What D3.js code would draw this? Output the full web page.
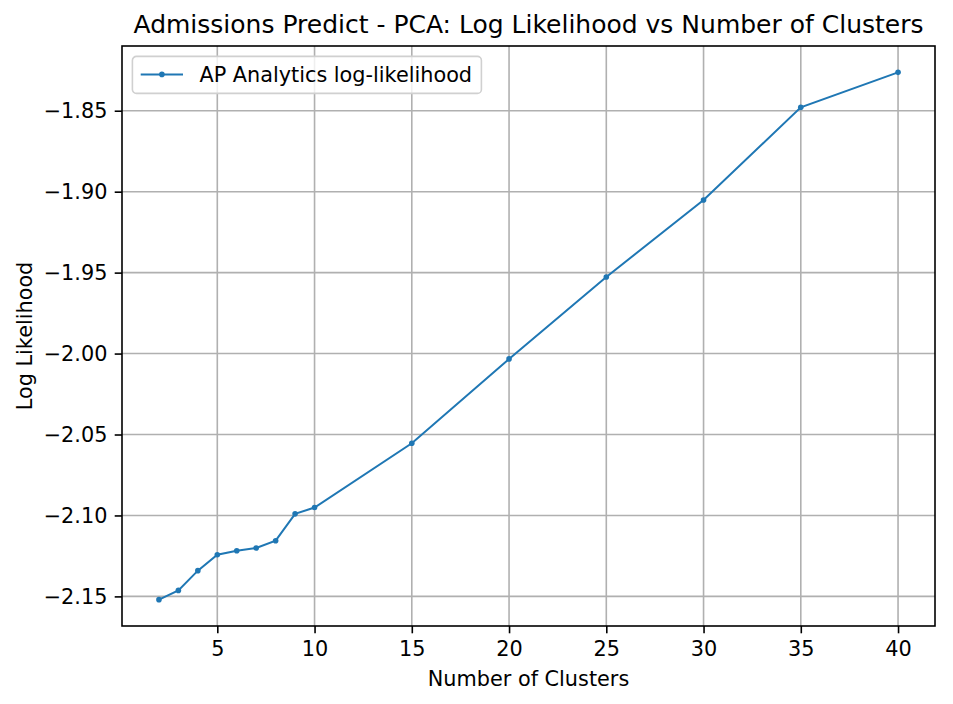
<!DOCTYPE html>
<html lang="en">
<head>
  <meta charset="UTF-8" />
  <title>Admissions Predict - PCA: Log Likelihood vs Number of Clusters</title>
  <script src="https://d3js.org/d3.v7.min.js"></script>
  <style>
    body { margin: 0; background: #fff; }
    svg { display: block; font-family: "DejaVu Sans", sans-serif; }
    .grid line { stroke: #b0b0b0; stroke-width: 1.6px; }
    .axis path, .axis line { stroke: #000; stroke-width: 1.6px; }
    .axis text { font-family: "DejaVu Sans", sans-serif; font-size: 20.8px; fill: #000; }
  </style>
</head>
<body>
  <svg id="chart" width="953" height="704"></svg>
  <script>
    const clusters = [2, 3, 4, 5, 6, 7, 8, 9, 10, 15, 20, 25, 30, 35, 40];
    const logLik = [-2.152, -2.1463, -2.1341, -2.1243, -2.1218, -2.1201, -2.1156, -2.099, -2.0951,
                    -2.0554, -2.0033, -1.9527, -1.9051, -1.8479, -1.8263];
    const xTicks = [5, 10, 15, 20, 25, 30, 35, 40];
    const yTicks = [-2.15, -2.10, -2.05, -2.00, -1.95, -1.90, -1.85];
    const seriesName = 'AP Analytics log-likelihood';

    const width = 953, height = 704;
    const margin = { top: 46, right: 18, bottom: 78, left: 122 };
    const svg = d3.select('#chart');
    const color = '#1f77b4';

    // matplotlib-style 5% padding around the data
    const xPad = (d3.max(clusters) - d3.min(clusters)) * 0.05;
    const yPad = (d3.max(logLik) - d3.min(logLik)) * 0.05;
    const x = d3.scaleLinear()
      .domain([d3.min(clusters) - xPad, d3.max(clusters) + xPad])
      .range([margin.left, width - margin.right]);
    const y = d3.scaleLinear()
      .domain([d3.min(logLik) - yPad, d3.max(logLik) + yPad])
      .range([height - margin.bottom, margin.top]);

    // grid
    const grid = svg.append('g').attr('class', 'grid');
    grid.selectAll('.gx').data(xTicks).enter().append('line')
      .attr('x1', d => x(d)).attr('x2', d => x(d))
      .attr('y1', margin.top).attr('y2', height - margin.bottom);
    grid.selectAll('.gy').data(yTicks).enter().append('line')
      .attr('x1', margin.left).attr('x2', width - margin.right)
      .attr('y1', d => y(d)).attr('y2', d => y(d));

    // line + markers
    const pts = clusters.map((c, i) => [c, logLik[i]]);
    svg.append('path')
      .datum(pts)
      .attr('fill', 'none').attr('stroke', color).attr('stroke-width', 2)
      .attr('d', d3.line().x(d => x(d[0])).y(d => y(d[1])));
    svg.selectAll('circle.pt').data(pts).enter().append('circle')
      .attr('class', 'pt')
      .attr('cx', d => x(d[0])).attr('cy', d => y(d[1])).attr('r', 2.8)
      .attr('fill', color);

    // axes (d3's format already uses the U+2212 minus, like matplotlib)
    svg.append('g').attr('class', 'axis')
      .attr('transform', `translate(0,${height - margin.bottom})`)
      .call(d3.axisBottom(x).tickValues(xTicks).tickSize(7.3).tickPadding(7.3).tickSizeOuter(0))
      .call(g => g.select('.domain').remove())
      .selectAll('text').attr('dy', '0.73em');
    svg.append('g').attr('class', 'axis')
      .attr('transform', `translate(${margin.left},0)`)
      .call(d3.axisLeft(y).tickValues(yTicks).tickSize(7.3).tickPadding(7.3)
        .tickFormat(d3.format('.2f')))
      .call(g => g.select('.domain').remove());

    // frame
    svg.append('rect')
      .attr('x', margin.left).attr('y', margin.top)
      .attr('width', width - margin.left - margin.right)
      .attr('height', height - margin.top - margin.bottom)
      .attr('fill', 'none').attr('stroke', '#000').attr('stroke-width', 1.6);

    // title and labels
    svg.append('text')
      .attr('x', (margin.left + width - margin.right) / 2).attr('y', 33)
      .attr('text-anchor', 'middle').attr('font-size', 25)
      .text('Admissions Predict - PCA: Log Likelihood vs Number of Clusters');
    svg.append('text')
      .attr('x', (margin.left + width - margin.right) / 2).attr('y', 686)
      .attr('text-anchor', 'middle').attr('font-size', 20.8)
      .text('Number of Clusters');
    svg.append('text')
      .attr('transform', `translate(32,${(margin.top + height - margin.bottom) / 2}) rotate(-90)`)
      .attr('text-anchor', 'middle').attr('font-size', 20.8)
      .text('Log Likelihood');

    // legend
    const lg = svg.append('g').attr('transform', `translate(${margin.left + 10.4},${margin.top + 10.4})`);
    lg.append('rect')
      .attr('width', 349).attr('height', 37).attr('rx', 4)
      .attr('fill', '#fff').attr('fill-opacity', 0.8)
      .attr('stroke', '#d0d0d0').attr('stroke-width', 1.6);
    lg.append('line')
      .attr('x1', 8.3).attr('x2', 50.6).attr('y1', 18).attr('y2', 18)
      .attr('stroke', color).attr('stroke-width', 2);
    lg.append('circle').attr('cx', 29.5).attr('cy', 18).attr('r', 2.8).attr('fill', color);
    lg.append('text')
      .attr('x', 67).attr('y', 18).attr('dy', '0.35em').attr('font-size', 20.8)
      .text(seriesName);
  </script>
</body>
</html>
